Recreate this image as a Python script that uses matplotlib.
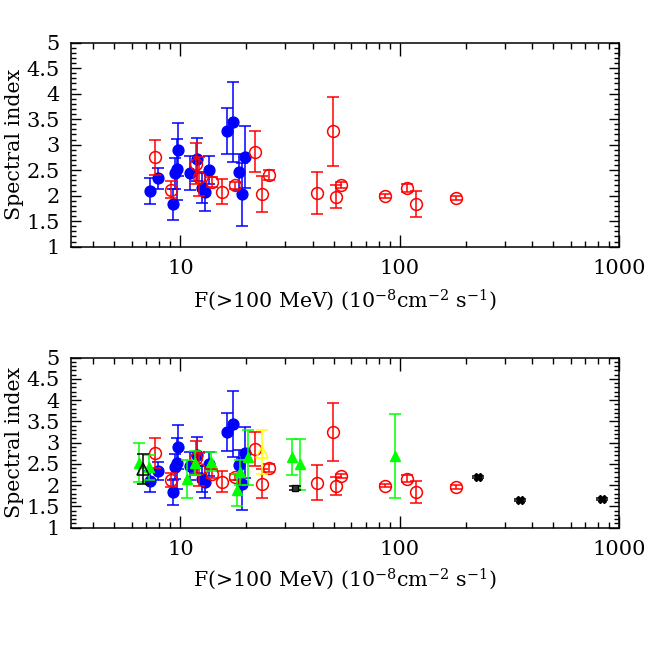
import numpy as np
import matplotlib
matplotlib.use("Agg")
import matplotlib.pyplot as plt
from matplotlib.ticker import LogLocator, FixedLocator, MultipleLocator, NullFormatter, FixedFormatter

plt.rcParams['font.family'] = ['DejaVu Serif']
plt.rcParams['mathtext.fontset'] = 'dejavuserif'

# ---------------- data ----------------
# blue filled circles
blue_x = [7.30, 7.89, 9.22, 9.42, 9.62, 9.79, 11.0, 11.9, 12.6, 12.9, 13.5, 16.3, 17.4, 18.4, 19.0, 19.7]
blue_y = [2.09, 2.34, 1.83, 2.44, 2.52, 2.90, 2.45, 2.71, 2.15, 2.08, 2.50, 3.26, 3.44, 2.47, 2.03, 2.76]
blue_e = [0.25, 0.21, 0.30, 0.30, 0.60, 0.52, 0.33, 0.43, 0.30, 0.38, 0.28, 0.45, 0.78, 0.35, 0.62, 0.60]

# red open circles
red_x = [7.69, 9.10, 11.8, 12.1, 13.9, 15.4, 17.7, 21.8, 23.6, 25.3, 42.1, 49.7, 51.1, 53.8, 85.7, 107.4, 118.7, 179.8]
red_y = [2.75, 2.12, 2.63, 2.37, 2.27, 2.08, 2.20, 2.86, 2.04, 2.41, 2.06, 3.26, 1.98, 2.21, 1.99, 2.15, 1.84, 1.96]
red_e = [0.35, 0.17, 0.40, 0.38, 0.10, 0.25, 0.07, 0.40, 0.35, 0.10, 0.41, 0.68, 0.22, 0.05, 0.04, 0.08, 0.25, 0.04]

# green filled triangles (lower panel only)
green_x = [6.47, 7.17, 10.7, 11.7, 13.8, 18.1, 18.6, 20.3, 32.1, 35.0, 94.6]
green_y = [2.53, 2.42, 2.15, 2.53, 2.55, 1.88, 2.30, 2.66, 2.66, 2.49, 2.69]
green_e = [0.46, 0.30, 0.45, 0.28, 0.22, 0.38, 0.30, 0.65, 0.42, 0.60, 0.99]

# yellow open triangle
yellow_x = [23.6]
yellow_y = [2.78]
yellow_e = [0.52]

# black open triangle
btri_x = [6.75]
btri_y = [2.38]
btri_e = [0.35]

# black small square
bsq_x = [33.2]
bsq_y = [1.94]
bsq_e = [0.05]

# black stars
bstar_x = [227.0, 352.0, 834.0]
bstar_y = [2.19, 1.65, 1.68]
bstar_e = [0.03, 0.03, 0.03]

x_ticks = [10, 100, 1000]
x_ticklabels = ['10', '100', '1000']
y_ticks = [1, 1.5, 2, 2.5, 3, 3.5, 4, 4.5, 5]
y_ticklabels = ['1', '1.5', '2', '2.5', '3', '3.5', '4', '4.5', '5']

# ---------------- figure ----------------
fig = plt.figure(figsize=(6.54, 6.54), dpi=100)
W = H = 654.0
def rect(l, r, t, b):
    return [l / W, 1 - b / H, (r - l) / W, (b - t) / H]

ax1 = fig.add_axes(rect(70.7, 619.3, 42.7, 246.7))
ax2 = fig.add_axes(rect(70.7, 619.3, 357.7, 527.7))

ekw = dict(linestyle='none', elinewidth=1.1, capsize=4.5, capthick=1.1)

def draw_common(ax):
    ax.errorbar(blue_x, blue_y, yerr=blue_e, fmt='o', color='#0000ff', ms=7.8,
                mec='#0000ff', mfc='#0000ff', zorder=2, **ekw)
    ax.errorbar(red_x, red_y, yerr=red_e, fmt='o', color='#ff0000', ms=8.5,
                mec='#ff0000', mfc='none', mew=1.1, zorder=3, **ekw)

def style(ax, xlab_y):
    ax.set_xscale('log')
    ax.set_xlim(10 ** 0.5, 1000)
    ax.set_ylim(1, 5)
    ax.xaxis.set_major_locator(FixedLocator(x_ticks))
    ax.xaxis.set_major_formatter(FixedFormatter(x_ticklabels))
    ax.xaxis.set_minor_locator(LogLocator(base=10, subs=np.arange(2, 10), numticks=20))
    ax.xaxis.set_minor_formatter(NullFormatter())
    ax.yaxis.set_major_locator(FixedLocator(y_ticks))
    ax.yaxis.set_major_formatter(FixedFormatter(y_ticklabels))
    ax.yaxis.set_minor_locator(MultipleLocator(0.1))
    ax.tick_params(axis='both', which='both', direction='in', top=True, right=True,
                   width=1.0, colors='black', labelsize=15)
    ax.tick_params(axis='x', which='major', length=9, pad=9)
    ax.tick_params(axis='x', which='minor', length=4.5)
    ax.tick_params(axis='y', which='major', length=7, pad=8)
    ax.tick_params(axis='y', which='minor', length=3.5)
    for s in ax.spines.values():
        s.set_linewidth(1.1)
    ax.set_ylabel('Spectral index', fontsize=14.8)
    ax.set_xlabel(r'F(>100 MeV) (10$^{-8}$cm$^{-2}$ s$^{-1}$)', fontsize=14.8)
    ax.yaxis.set_label_coords(-0.086, 0.5)
    ax.xaxis.set_label_coords(0.5, xlab_y)

draw_common(ax1)
style(ax1, -0.20)

draw_common(ax2)
ax2.errorbar(green_x, green_y, yerr=green_e, fmt='^', color='#00ff00', ms=7,
             mec='#00ff00', mfc='#00ff00', zorder=4, **ekw)
ax2.errorbar(yellow_x, yellow_y, yerr=yellow_e, fmt='^', color='#ffff00', ms=8,
             mec='#ffff00', mfc='none', mew=1.1, zorder=4, **ekw)
ax2.errorbar(btri_x, btri_y, yerr=btri_e, fmt='^', color='black', ms=8,
             mec='black', mfc='none', mew=1.1, zorder=5, **ekw)
ax2.errorbar(bsq_x, bsq_y, yerr=bsq_e, fmt='s', color='black', ms=5,
             mec='black', mfc='#333333', zorder=5, **ekw)
ax2.errorbar(bstar_x, bstar_y, yerr=bstar_e, fmt='X', color='black', ms=6,
             mec='black', mfc='black', zorder=5, **ekw)
style(ax2, -0.23)

fig.savefig('out.png', dpi=100)
